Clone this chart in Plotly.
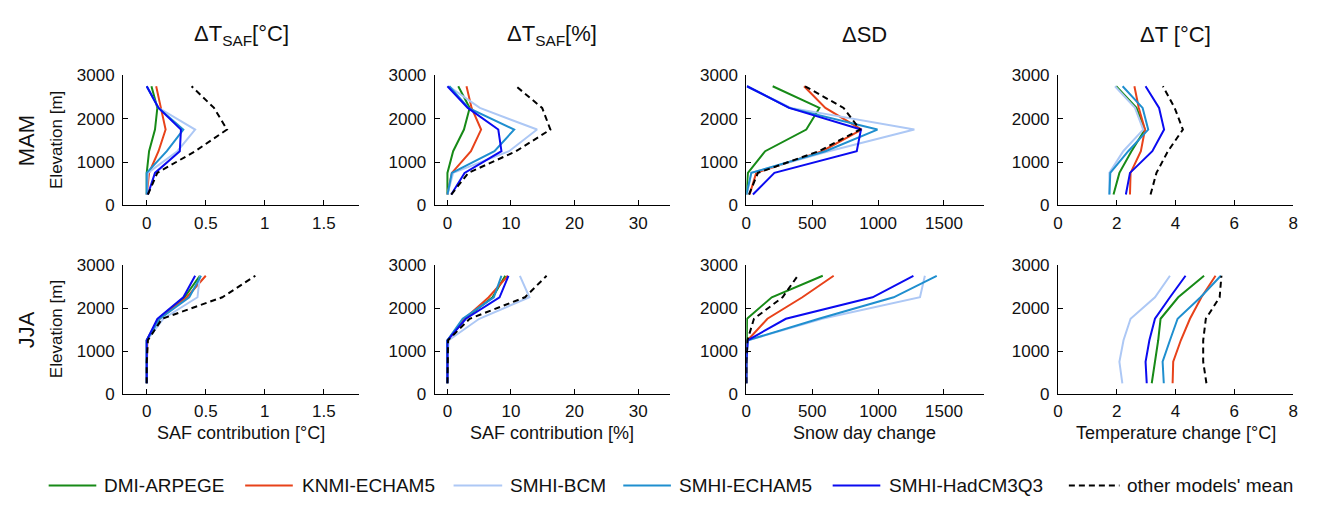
import plotly.graph_objects as go

elev = [250, 750, 1250, 1750, 2250, 2750]
models = ["DMI-ARPEGE", "KNMI-ECHAM5", "SMHI-BCM", "SMHI-ECHAM5", "SMHI-HadCM3Q3", "other models' mean"]
colors = ["#178a17", "#e8421a", "#adc8f5", "#1f8fcf", "#0b0bf0", "#000000"]

# values per model (order as in `models`), elevation bottom -> top
mam_saf_c = [
    [0, 0, 0.02, 0.07, 0.09, 0.04],
    [0, 0.02, 0.10, 0.16, 0.12, 0.08],
    [0, 0.01, 0.26, 0.41, 0.10, 0.0],
    [0, 0.0, 0.17, 0.31, 0.10, 0.0],
    [0.01, 0.07, 0.28, 0.29, 0.10, 0.0],
    [0.01, 0.09, 0.41, 0.68, 0.57, 0.38],
]
mam_saf_pct = [
    [0, 0, 0.9, 2.6, 3.5, 1.7],
    [0, 0.7, 3.7, 5.3, 3.8, 3.0],
    [0, 0.9, 9.7, 14.1, 5.1, 0.2],
    [0, 0.7, 7.4, 10.5, 3.3, 0.3],
    [0.6, 2.7, 8.5, 8.0, 3.2, 0],
    [0.6, 3.3, 10.8, 16.2, 14.9, 10.8],
]
mam_sd = [
    [0, 12, 143, 455, 555, 200],
    [25, 75, 575, 875, 600, 438],
    [5, 38, 625, 1275, 338, 5],
    [0, 38, 600, 995, 325, 5],
    [50, 213, 838, 870, 325, 5],
    [20, 88, 550, 863, 738, 445],
]
mam_t = [
    [1.89, 2.09, 2.50, 2.96, 2.67, 1.98],
    [2.45, 2.47, 2.82, 2.96, 2.75, 2.60],
    [1.75, 1.75, 2.22, 2.90, 2.62, 1.94],
    [1.75, 1.78, 2.39, 3.07, 2.88, 2.20],
    [2.31, 2.45, 3.21, 3.61, 3.44, 2.98],
    [3.15, 3.35, 3.74, 4.25, 3.97, 3.57],
]
jja_saf_c = [
    [0, 0, 0, 0.10, 0.32, 0.45],
    [0, 0, 0.005, 0.11, 0.34, 0.50],
    [0, 0, 0, 0.14, 0.43, 0.45],
    [0, 0, 0, 0.11, 0.36, 0.46],
    [0, 0, 0, 0.09, 0.31, 0.41],
    [0, 0, 0.01, 0.13, 0.64, 0.92],
]
jja_saf_pct = [
    [0, 0, 0, 2.7, 7.1, 9.1],
    [0, 0, 0.1, 2.7, 6.5, 9.5],
    [0, 0, 0.2, 5.0, 12.9, 11.4],
    [0, 0, 0, 2.4, 7.3, 8.5],
    [0, 0, 0, 2.9, 8.2, 9.6],
    [0, 0, 0.1, 3.5, 12.2, 15.6],
]
jja_sd = [
    [0, 0, 0, 5, 193, 580],
    [0, 0, 10, 160, 425, 663],
    [0, 0, 15, 575, 1318, 1355],
    [0, 0, 10, 550, 1118, 1445],
    [0, 0, 10, 300, 958, 1268],
    [0, 0, 8, 58, 275, 390],
]
jja_t = [
    [3.19, 3.30, 3.41, 3.49, 4.09, 4.97],
    [3.90, 3.92, 4.18, 4.49, 4.88, 5.36],
    [2.19, 2.09, 2.23, 2.47, 3.30, 3.81],
    [3.60, 3.56, 3.81, 4.07, 4.85, 5.54],
    [3.02, 2.98, 3.11, 3.30, 3.81, 4.34],
    [5.05, 4.94, 4.94, 5.03, 5.50, 5.56],
]

col_titles = ["ΔT<sub>SAF</sub>[°C]", "ΔT<sub>SAF</sub>[%]", "ΔSD", "ΔT [°C]"]
x_titles = ["SAF contribution [°C]", "SAF contribution [%]", "Snow day change", "Temperature change [°C]"]
row_labels = ["MAM", "JJA"]
x_ranges = [[-0.2, 1.8], [-2, 35], [0, 1800], [0, 8]]
x_ticks = [[0, 0.5, 1, 1.5], [0, 10, 20, 30], [0, 500, 1000, 1500], [0, 2, 4, 6, 8]]
y_ticks = [0, 1000, 2000, 3000]

W, H = 1318, 507
col_px = [(119, 357), (433, 670), (747, 986), (1061, 1298)]
row_px = [(69, 204), (266, 400)]
FONT = "Liberation Sans, Arial, sans-serif"
TXT = "#111111"

# legend layout (pixel positions of sample line start/end, text start)
leg_line = [(44, 92), (242, 290), (452, 501), (623, 671), (834, 882), (1072, 1123)]
leg_text_x = [98, 297, 507, 677, 889, 1129]
leg_y = 495

panels = [[mam_saf_c, mam_saf_pct, mam_sd, mam_t], [jja_saf_c, jja_saf_pct, jja_sd, jja_t]]

fig = go.Figure()
layout = {}
annotations = []
shapes = []
for r in range(2):
    for c in range(4):
        k = r * 4 + c + 1
        xa = "x" if k == 1 else f"x{k}"
        ya = "y" if k == 1 else f"y{k}"
        data = panels[r][c]
        for m, name in enumerate(models):
            fig.add_trace(go.Scatter(
                x=data[m], y=elev, mode="lines", name=name,
                xaxis=xa, yaxis=ya, showlegend=False,
                line=dict(color=colors[m], width=2,
                          dash=("6px,4px" if m == 5 else "solid")),
                hoverinfo="skip",
            ))
        x0, x1 = col_px[c]
        y0, y1 = row_px[r]
        layout["xaxis" if k == 1 else f"xaxis{k}"] = dict(
            domain=[x0 / W, x1 / W], anchor=ya, range=x_ranges[c],
            tickvals=x_ticks[c], ticks="inside", ticklen=5, tickcolor="black",
            showline=True, linecolor="black", linewidth=1, showgrid=False,
            zeroline=False, tickfont=dict(size=17, color=TXT, family=FONT),
            ticklabelstandoff=2, fixedrange=True,
        )
        layout["yaxis" if k == 1 else f"yaxis{k}"] = dict(
            domain=[1 - y1 / H, 1 - y0 / H], anchor=xa, range=[0, 3000],
            tickvals=y_ticks, ticks="inside", ticklen=5, tickcolor="black",
            showline=True, linecolor="black", linewidth=1, showgrid=False,
            zeroline=False, tickfont=dict(size=17, color=TXT, family=FONT),
            ticklabelstandoff=4, fixedrange=True,
        )

# column titles and bottom x-axis titles
for c in range(4):
    cx = (col_px[c][0] + col_px[c][1]) / 2 / W
    annotations.append(dict(x=cx, y=1 - 27 / H, xref="paper", yref="paper",
                            xanchor="center", yanchor="middle",
                            text=col_titles[c], showarrow=False,
                            font=dict(size=22, color=TXT, family=FONT)))
    annotations.append(dict(x=cx, y=1 - 441 / H, xref="paper", yref="paper",
                            xanchor="center", yanchor="middle",
                            text=x_titles[c], showarrow=False,
                            font=dict(size=18, color=TXT, family=FONT)))
# row labels
for r in range(2):
    cy = 1 - (row_px[r][0] + row_px[r][1]) / 2 / H
    annotations.append(dict(x=22 / W, y=cy, xref="paper", yref="paper",
                            xanchor="center", yanchor="middle",
                            text=row_labels[r], showarrow=False, textangle=-90,
                            font=dict(size=22, color=TXT, family=FONT)))
    annotations.append(dict(x=52 / W, y=cy, xref="paper", yref="paper",
                            xanchor="center", yanchor="middle",
                            text="Elevation [m]", showarrow=False, textangle=-90,
                            font=dict(size=17, color=TXT, family=FONT)))

# legend (drawn as sample lines + labels)
for m, name in enumerate(models):
    lx0, lx1 = leg_line[m]
    shapes.append(dict(type="line", xref="paper", yref="paper",
                       x0=lx0 / W, x1=lx1 / W, y0=1 - leg_y / H, y1=1 - leg_y / H,
                       line=dict(color=colors[m], width=2,
                                 dash=("6px,4px" if m == 5 else "solid"))))
    annotations.append(dict(x=leg_text_x[m] / W, y=1 - leg_y / H, xref="paper", yref="paper",
                            xanchor="left", yanchor="middle", text=name, showarrow=False,
                            font=dict(size=19, color=TXT, family=FONT)))

fig.update_layout(
    **layout,
    annotations=annotations,
    shapes=shapes,
    width=W, height=H,
    margin=dict(l=0, r=0, t=0, b=0),
    paper_bgcolor="white", plot_bgcolor="white",
    showlegend=False,
)
fig.write_html("out.html")
